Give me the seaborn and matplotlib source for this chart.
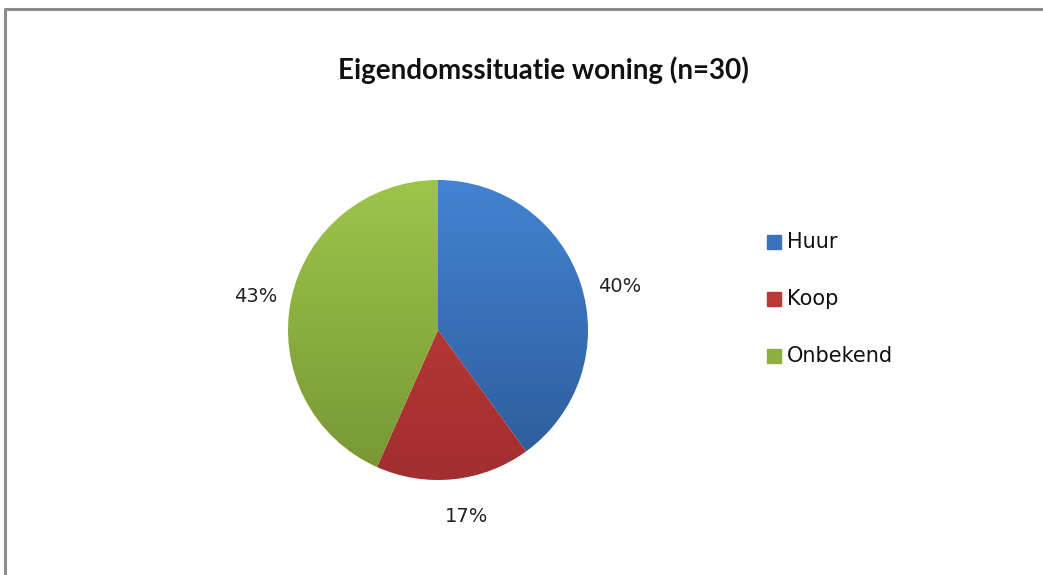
import numpy as np
import matplotlib
matplotlib.use("Agg")
import matplotlib.pyplot as plt
import matplotlib.colors as mcolors
import seaborn as sns

# Data
categories = ["Huur", "Koop", "Onbekend"]
counts = [12, 5, 13]
pct_labels = ["40%", "17%", "43%"]
title = "Eigendomssituatie woning (n=30)"

# gradient colours (top, bottom) per slice
top_colors = ["#4383D2", "#C83E3C", "#9DC54B"]
bottom_colors = ["#2C5A98", "#A22E2F", "#779633"]
flat_colors = ["#3A72BC", "#BA3836", "#8DB03F"]

sns.set_theme(style="white")
plt.rcParams["font.family"] = ["DejaVu Sans"]

W, H = 1043, 575
fig = plt.figure(figsize=(W / 100, H / 100), dpi=100)
ax = fig.add_axes([0, 0, 1, 1])

cx, cy, r = 438, H - 330, 150
wedges, _ = ax.pie(counts, colors=flat_colors, startangle=90, counterclock=False,
                   center=(cx, cy), radius=r, frame=True)

# vertical gradient inside every wedge
for w, c1, c2 in zip(wedges, top_colors, bottom_colors):
    cmap = mcolors.LinearSegmentedColormap.from_list("g", [c2, c1])
    grad = np.linspace(0, 1, 256).reshape(-1, 1)
    im = ax.imshow(grad, cmap=cmap, origin="lower", aspect="auto",
                   extent=[cx - r, cx + r, cy - r, cy + r], zorder=2)
    im.set_clip_path(w)
ax.set_xlim(0, W)
ax.set_ylim(0, H)
ax.axis("off")

# percentage labels
label_pos = [(620, 287), (467, 516), (256, 297)]
for (px, py), t in zip(label_pos, pct_labels):
    ax.text(px, H - py, t, ha="center", va="center", fontsize=14, color="#222222")

ax.text(543, H - 70, title, ha="center", va="center", fontsize=20,
        fontweight="bold", family=["Lato", "DejaVu Sans"], color="#111111")

# legend
for i, (cat, col) in enumerate(zip(categories, flat_colors)):
    y = H - (242 + 57 * i)
    ax.add_patch(plt.Rectangle((767, y - 7), 14, 14, color=col, zorder=3))
    ax.text(787, y, cat, ha="left", va="center", fontsize=15, color="#111111")

# chart border
ax.plot([5, 5, W], [0, H - 9, H - 9], color="#8c8c8c", lw=2.2, solid_capstyle="butt")

fig.savefig("out.png", dpi=100, facecolor="white")
